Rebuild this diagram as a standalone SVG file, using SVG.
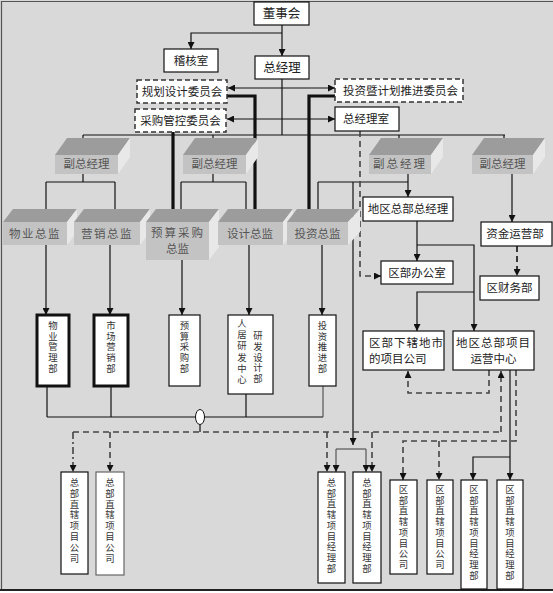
<svg xmlns="http://www.w3.org/2000/svg" width="553" height="593" viewBox="0 0 553 593">
<defs>
<marker id="ah" viewBox="0 0 8 8" refX="8" refY="4" markerWidth="7" markerHeight="7" markerUnits="userSpaceOnUse" orient="auto-start-reverse"><path d="M0,0 L8,4 L0,8 z" fill="#111"/></marker>
</defs>
<style>
text{font-family:"Noto Sans CJK SC","Noto Sans",sans-serif;font-size:11.5px;fill:#222}
.c{text-anchor:middle}
.v{text-anchor:middle;font-family:"Liberation Sans","Noto Sans CJK SC",sans-serif;font-size:9.4px;fill:#333}
.g{fill:#555}
.box{fill:#fff;stroke:#111;stroke-width:1.2}
.dbox{fill:#fff;stroke:#333;stroke-width:1.5;stroke-dasharray:5,3}
.tk{fill:#fff;stroke:#111;stroke-width:3}
.top{fill:#9c9c9c}
.front{fill:#c3c3c3}
.side{fill:#e8e8e8}
.ln{fill:none;stroke:#111;stroke-width:1.2}
.lg{fill:none;stroke:#555;stroke-width:1.2}
.th{fill:none;stroke:#111;stroke-width:3.2}
.dl{fill:none;stroke:#444;stroke-width:1.6;stroke-dasharray:6,4}
.dk{fill:none;stroke:#111;stroke-width:1.6;stroke-dasharray:6,4}
.dd{fill:none;stroke:#444;stroke-width:1.6;stroke-dasharray:7,3,2,3}
.a{marker-end:url(#ah)}
</style>
<rect x="0" y="0" width="553" height="591" fill="#d9d9d9"/>
<path d="M1,1.5 H553 M1.5,1 V590" fill="none" stroke="#555" stroke-width="1.2"/>
<path d="M0,590 H553" stroke="#222" stroke-width="2"/>

<g id="connectors">
<path class="ln a" d="M282,25 V56"/>
<path class="ln a" d="M282,33 H191 V49"/>
<path class="ln" d="M282,79 V135 M83,135 H505"/>
<path class="ln a" d="M83,135 V148"/>
<path class="ln a" d="M213,135 V148"/>
<path class="ln a" d="M399,135 V148"/>
<path class="ln a" d="M504,135 V148"/>
<path class="ln a" d="M228,88 H335" marker-start="url(#ah)"/>
<path class="ln a" d="M227,119 H335" marker-start="url(#ah)"/>
<path class="th a" d="M227,96 H255 V220"/>
<path class="th a" d="M173,132 V220"/>
<path class="th a" d="M335,96 H309 V220"/>
<path class="ln" d="M83,174 V182 M46,182 H115"/>
<path class="ln a" d="M46,182 V220"/>
<path class="ln a" d="M115,182 V220"/>
<path class="ln" d="M213,174 V182 M181,182 H246"/>
<path class="ln a" d="M181,182 V220"/>
<path class="ln a" d="M246,182 V220"/>
<path class="ln a" d="M408,174 V197"/>
<path class="ln" d="M318,182 H408"/>
<path class="ln a" d="M318,182 V220"/>
<path class="ln a" d="M353,182 V445"/>
<path class="ln a" d="M512,174 V222"/>
<path class="ln a" d="M46,245 V315"/>
<path class="ln a" d="M110,245 V315"/>
<path class="ln a" d="M182,260 V315"/>
<path class="ln a" d="M249,245 V315"/>
<path class="ln a" d="M322,245 V315"/>
<path class="ln" d="M47,386 V417 M111,386 V417 M246,394 V417 M47,417 H323"/>
<path class="lg" d="M323,386 V417"/>
<ellipse cx="200" cy="417" rx="4.5" ry="7.5" fill="#fff" stroke="#111" stroke-width="1"/>
<path class="ln" d="M200,424.5 V432"/>
<path class="dl" d="M73,432 H501"/>
<path class="dl a" d="M501,432 V371"/>
<path class="dd a" d="M73,432 V472"/>
<path class="dl a" d="M110,432 V472"/>
<path class="dl a" d="M327,432 V472"/>
<path class="dl a" d="M372,432 V472"/>
<path class="lg a" d="M336,449 V472"/>
<path class="lg a" d="M366,449 V472"/>
<path class="lg" d="M336,449 H366"/>
<path class="dl a" d="M516,370 V441 H403 V480"/>
<path class="dl a" d="M439,441 V480"/>
<path class="dl a" d="M489,370 V393 H408 V371"/>
<path class="ln a" d="M510,370 V480"/>
<path class="ln a" d="M510,457 H473 V480"/>
<path class="dl a" d="M360,131 V276 H381"/>
<path class="ln a" d="M417,221 V261"/>
<path class="ln a" d="M417,245 H474 V331"/>
<path class="ln a" d="M474,292 H417 V331"/>
<path class="dk a" d="M517,246 V276"/>
</g>

<g id="dongshihui"><rect class="box" x="254" y="2" width="55" height="23"/><text class="c" x="281.5" y="18" style="font-size:12.5px">董事会</text></g>
<g id="jihe"><rect class="box" x="164" y="49" width="54" height="23"/><text class="c" x="191" y="65">稽核室</text></g>
<g id="zongjingli"><rect class="box" x="255" y="56" width="54" height="23"/><text class="c" x="282" y="72" style="font-size:12.5px">总经理</text></g>
<g id="guihua"><rect class="dbox" x="137" y="80" width="90" height="23"/><text class="c" x="182" y="96">规划设计委员会</text></g>
<g id="caigou"><rect class="dbox" x="135" y="109" width="91" height="23"/><text class="c" x="180.5" y="125">采购管控委员会</text></g>
<g id="touzi-wyh"><rect class="dbox" x="335" y="79" width="128" height="23"/><text x="343" y="95">投资暨计划推进委员会</text></g>
<g id="zjls"><rect class="box" x="335" y="107" width="64" height="24"/><text x="343" y="123">总经理室</text></g>

<g id="fz1"><polygon class="top" points="55,155 67,138 130,138 118,155"/><polygon class="side" points="118,155 130,138 130,157 118,174"/><rect class="front" x="55" y="155" width="63" height="19"/><text class="c g" x="86.5" y="168">副总经理</text></g>
<g id="fz2"><polygon class="top" points="183,155 195,138 258,138 246,155"/><polygon class="side" points="246,155 258,138 258,157 246,174"/><rect class="front" x="183" y="155" width="63" height="19"/><text class="c g" x="214.5" y="168">副总经理</text></g>
<g id="fz3"><polygon class="top" points="369,155 381,138 443,138 431,155"/><polygon class="side" points="431,155 443,138 443,157 431,174"/><rect class="front" x="369" y="155" width="62" height="19"/><text class="c g" x="400" y="168" letter-spacing="2">副总经理</text></g>
<g id="fz4"><polygon class="top" points="472,155 484,138 545,138 533,155"/><polygon class="side" points="533,155 545,138 545,157 533,174"/><rect class="front" x="472" y="155" width="61" height="19"/><text class="c g" x="502.5" y="168">副总经理</text></g>

<g id="wuye-zj"><polygon class="top" points="3,222 13,209 77,209 67,222"/><polygon class="side" points="67,222 77,209 77,232 67,245"/><rect class="front" x="3" y="222" width="64" height="23"/><text class="c g" x="35" y="238" letter-spacing="1.5">物业总监</text></g>
<g id="yingxiao-zj"><polygon class="top" points="74,222 84,209 150,209 140,222"/><polygon class="side" points="140,222 150,209 150,232 140,245"/><rect class="front" x="74" y="222" width="66" height="23"/><text class="c g" x="107" y="238" letter-spacing="1.5">营销总监</text></g>
<g id="yusuan-zj"><polygon class="top" points="146,222 156,209 219,209 209,222"/><polygon class="side" points="209,222 219,209 219,247 209,260"/><rect class="front" x="146" y="222" width="63" height="38"/><text class="c g" x="178" y="237" letter-spacing="2">预算采购</text><text class="c g" x="177.5" y="253">总监</text></g>
<g id="sheji-zj"><polygon class="top" points="218,222 228,209 293,209 283,222"/><polygon class="side" points="283,222 293,209 293,232 283,245"/><rect class="front" x="218" y="222" width="65" height="23"/><text class="c g" x="250" y="238">设计总监</text></g>
<g id="touzi-zj"><polygon class="top" points="287,222 297,209 360,209 348,222"/><polygon class="side" points="348,222 360,209 360,232 348,245"/><rect class="front" x="287" y="222" width="61" height="23"/><text class="c g" x="317.5" y="238">投资总监</text></g>

<g id="diqu-zjl"><rect class="box" x="363" y="197" width="90" height="24"/><text class="c" x="408" y="213">地区总部总经理</text></g>
<g id="qubu-bgs"><rect class="box" x="381" y="261" width="72" height="23"/><text class="c" x="417" y="277">区部办公室</text></g>
<g id="zijin"><rect class="box" x="481" y="222" width="71" height="24"/><text class="c" x="515" y="238">资金运营部</text></g>
<g id="caiwu"><rect class="box" x="480" y="276" width="59" height="24"/><text class="c" x="509.5" y="292">区财务部</text></g>
<g id="xiaxia"><rect class="box" x="363" y="331" width="81" height="39"/><text x="369" y="347" letter-spacing="1">区部下辖地市</text><text x="369" y="363">的项目公司</text></g>
<g id="yunying"><rect class="box" x="453" y="331" width="81" height="39"/><text class="c" x="493.5" y="347" letter-spacing="1">地区总部项目</text><text class="c" x="493.5" y="363">运营中心</text></g>

<g id="wuye-b"><rect class="tk" x="37" y="315" width="32" height="71"/><text class="v" x="53"><tspan x="53" y="329">物</tspan><tspan x="53" dy="10.7">业</tspan><tspan x="53" dy="10.7">管</tspan><tspan x="53" dy="10.7">理</tspan><tspan x="53" dy="10.7">部</tspan></text></g>
<g id="shichang-b"><rect class="tk" x="94" y="315" width="34" height="71"/><text class="v" x="111"><tspan x="111" y="329">市</tspan><tspan x="111" dy="10.7">场</tspan><tspan x="111" dy="10.7">营</tspan><tspan x="111" dy="10.7">销</tspan><tspan x="111" dy="10.7">部</tspan></text></g>
<g id="yusuan-b"><rect class="box" x="169" y="315" width="31" height="71"/><text class="v" x="184.5"><tspan x="184.5" y="329">预</tspan><tspan x="184.5" dy="10.7">算</tspan><tspan x="184.5" dy="10.7">采</tspan><tspan x="184.5" dy="10.7">购</tspan><tspan x="184.5" dy="10.7">部</tspan></text></g>
<g id="renju-b"><rect class="box" x="228" y="315" width="45" height="79"/><text class="v" x="242"><tspan x="242" y="327">人</tspan><tspan x="242" dy="11.2">居</tspan><tspan x="242" dy="11.2">研</tspan><tspan x="242" dy="11.2">发</tspan><tspan x="242" dy="11.2">中</tspan><tspan x="242" dy="11.2">心</tspan></text><text class="v" x="258"><tspan x="258" y="339">研</tspan><tspan x="258" dy="10.8">发</tspan><tspan x="258" dy="10.8">设</tspan><tspan x="258" dy="10.8">计</tspan><tspan x="258" dy="10.8">部</tspan></text></g>
<g id="touzi-b"><rect class="box" x="309" y="315" width="27" height="71"/><text class="v" x="322.5"><tspan x="322.5" y="329">投</tspan><tspan x="322.5" dy="10.7">资</tspan><tspan x="322.5" dy="10.7">推</tspan><tspan x="322.5" dy="10.7">进</tspan><tspan x="322.5" dy="10.7">部</tspan></text></g>

<g id="zb-gs1"><rect class="box" x="61" y="472" width="27" height="102"/><text class="v" x="74.5"><tspan x="74.5" y="486">总</tspan><tspan x="74.5" dy="10.8">部</tspan><tspan x="74.5" dy="10.8">直</tspan><tspan x="74.5" dy="10.8">辖</tspan><tspan x="74.5" dy="10.8">项</tspan><tspan x="74.5" dy="10.8">目</tspan><tspan x="74.5" dy="10.8">公</tspan><tspan x="74.5" dy="10.8">司</tspan></text></g>
<g id="zb-gs2"><rect class="box" x="96" y="472" width="28" height="103" style="stroke:#666"/><text class="v" x="110"><tspan x="110" y="486">总</tspan><tspan x="110" dy="10.8">部</tspan><tspan x="110" dy="10.8">直</tspan><tspan x="110" dy="10.8">辖</tspan><tspan x="110" dy="10.8">项</tspan><tspan x="110" dy="10.8">目</tspan><tspan x="110" dy="10.8">公</tspan><tspan x="110" dy="10.8">司</tspan></text></g>
<g id="zb-jlb1"><rect class="box" x="318" y="472" width="27" height="111"/><text class="v" x="331.5"><tspan x="331.5" y="486">总</tspan><tspan x="331.5" dy="10.7">部</tspan><tspan x="331.5" dy="10.7">直</tspan><tspan x="331.5" dy="10.7">辖</tspan><tspan x="331.5" dy="10.7">项</tspan><tspan x="331.5" dy="10.7">目</tspan><tspan x="331.5" dy="10.7">经</tspan><tspan x="331.5" dy="10.7">理</tspan><tspan x="331.5" dy="10.7">部</tspan></text></g>
<g id="zb-jlb2"><rect class="box" x="353" y="472" width="28" height="111"/><text class="v" x="367"><tspan x="367" y="486">总</tspan><tspan x="367" dy="10.7">部</tspan><tspan x="367" dy="10.7">直</tspan><tspan x="367" dy="10.7">辖</tspan><tspan x="367" dy="10.7">项</tspan><tspan x="367" dy="10.7">目</tspan><tspan x="367" dy="10.7">经</tspan><tspan x="367" dy="10.7">理</tspan><tspan x="367" dy="10.7">部</tspan></text></g>
<g id="qb-gs1"><rect class="box" x="390" y="480" width="27" height="94"/><text class="v" x="403.5"><tspan x="403.5" y="493">区</tspan><tspan x="403.5" dy="10.7">部</tspan><tspan x="403.5" dy="10.7">直</tspan><tspan x="403.5" dy="10.7">辖</tspan><tspan x="403.5" dy="10.7">项</tspan><tspan x="403.5" dy="10.7">目</tspan><tspan x="403.5" dy="10.7">公</tspan><tspan x="403.5" dy="10.7">司</tspan></text></g>
<g id="qb-gs2"><rect class="box" x="427" y="480" width="26" height="94"/><text class="v" x="440"><tspan x="440" y="493">区</tspan><tspan x="440" dy="10.7">部</tspan><tspan x="440" dy="10.7">直</tspan><tspan x="440" dy="10.7">辖</tspan><tspan x="440" dy="10.7">项</tspan><tspan x="440" dy="10.7">目</tspan><tspan x="440" dy="10.7">公</tspan><tspan x="440" dy="10.7">司</tspan></text></g>
<g id="qb-jlb1"><rect class="box" x="461" y="480" width="26" height="109"/><text class="v" x="474"><tspan x="474" y="493">区</tspan><tspan x="474" dy="10.7">部</tspan><tspan x="474" dy="10.7">直</tspan><tspan x="474" dy="10.7">辖</tspan><tspan x="474" dy="10.7">项</tspan><tspan x="474" dy="10.7">目</tspan><tspan x="474" dy="10.7">经</tspan><tspan x="474" dy="10.7">理</tspan><tspan x="474" dy="10.7">部</tspan></text></g>
<g id="qb-jlb2"><rect class="box" x="497" y="480" width="26" height="109"/><text class="v" x="510"><tspan x="510" y="493">区</tspan><tspan x="510" dy="10.7">部</tspan><tspan x="510" dy="10.7">直</tspan><tspan x="510" dy="10.7">辖</tspan><tspan x="510" dy="10.7">项</tspan><tspan x="510" dy="10.7">目</tspan><tspan x="510" dy="10.7">经</tspan><tspan x="510" dy="10.7">理</tspan><tspan x="510" dy="10.7">部</tspan></text></g>
</svg>
